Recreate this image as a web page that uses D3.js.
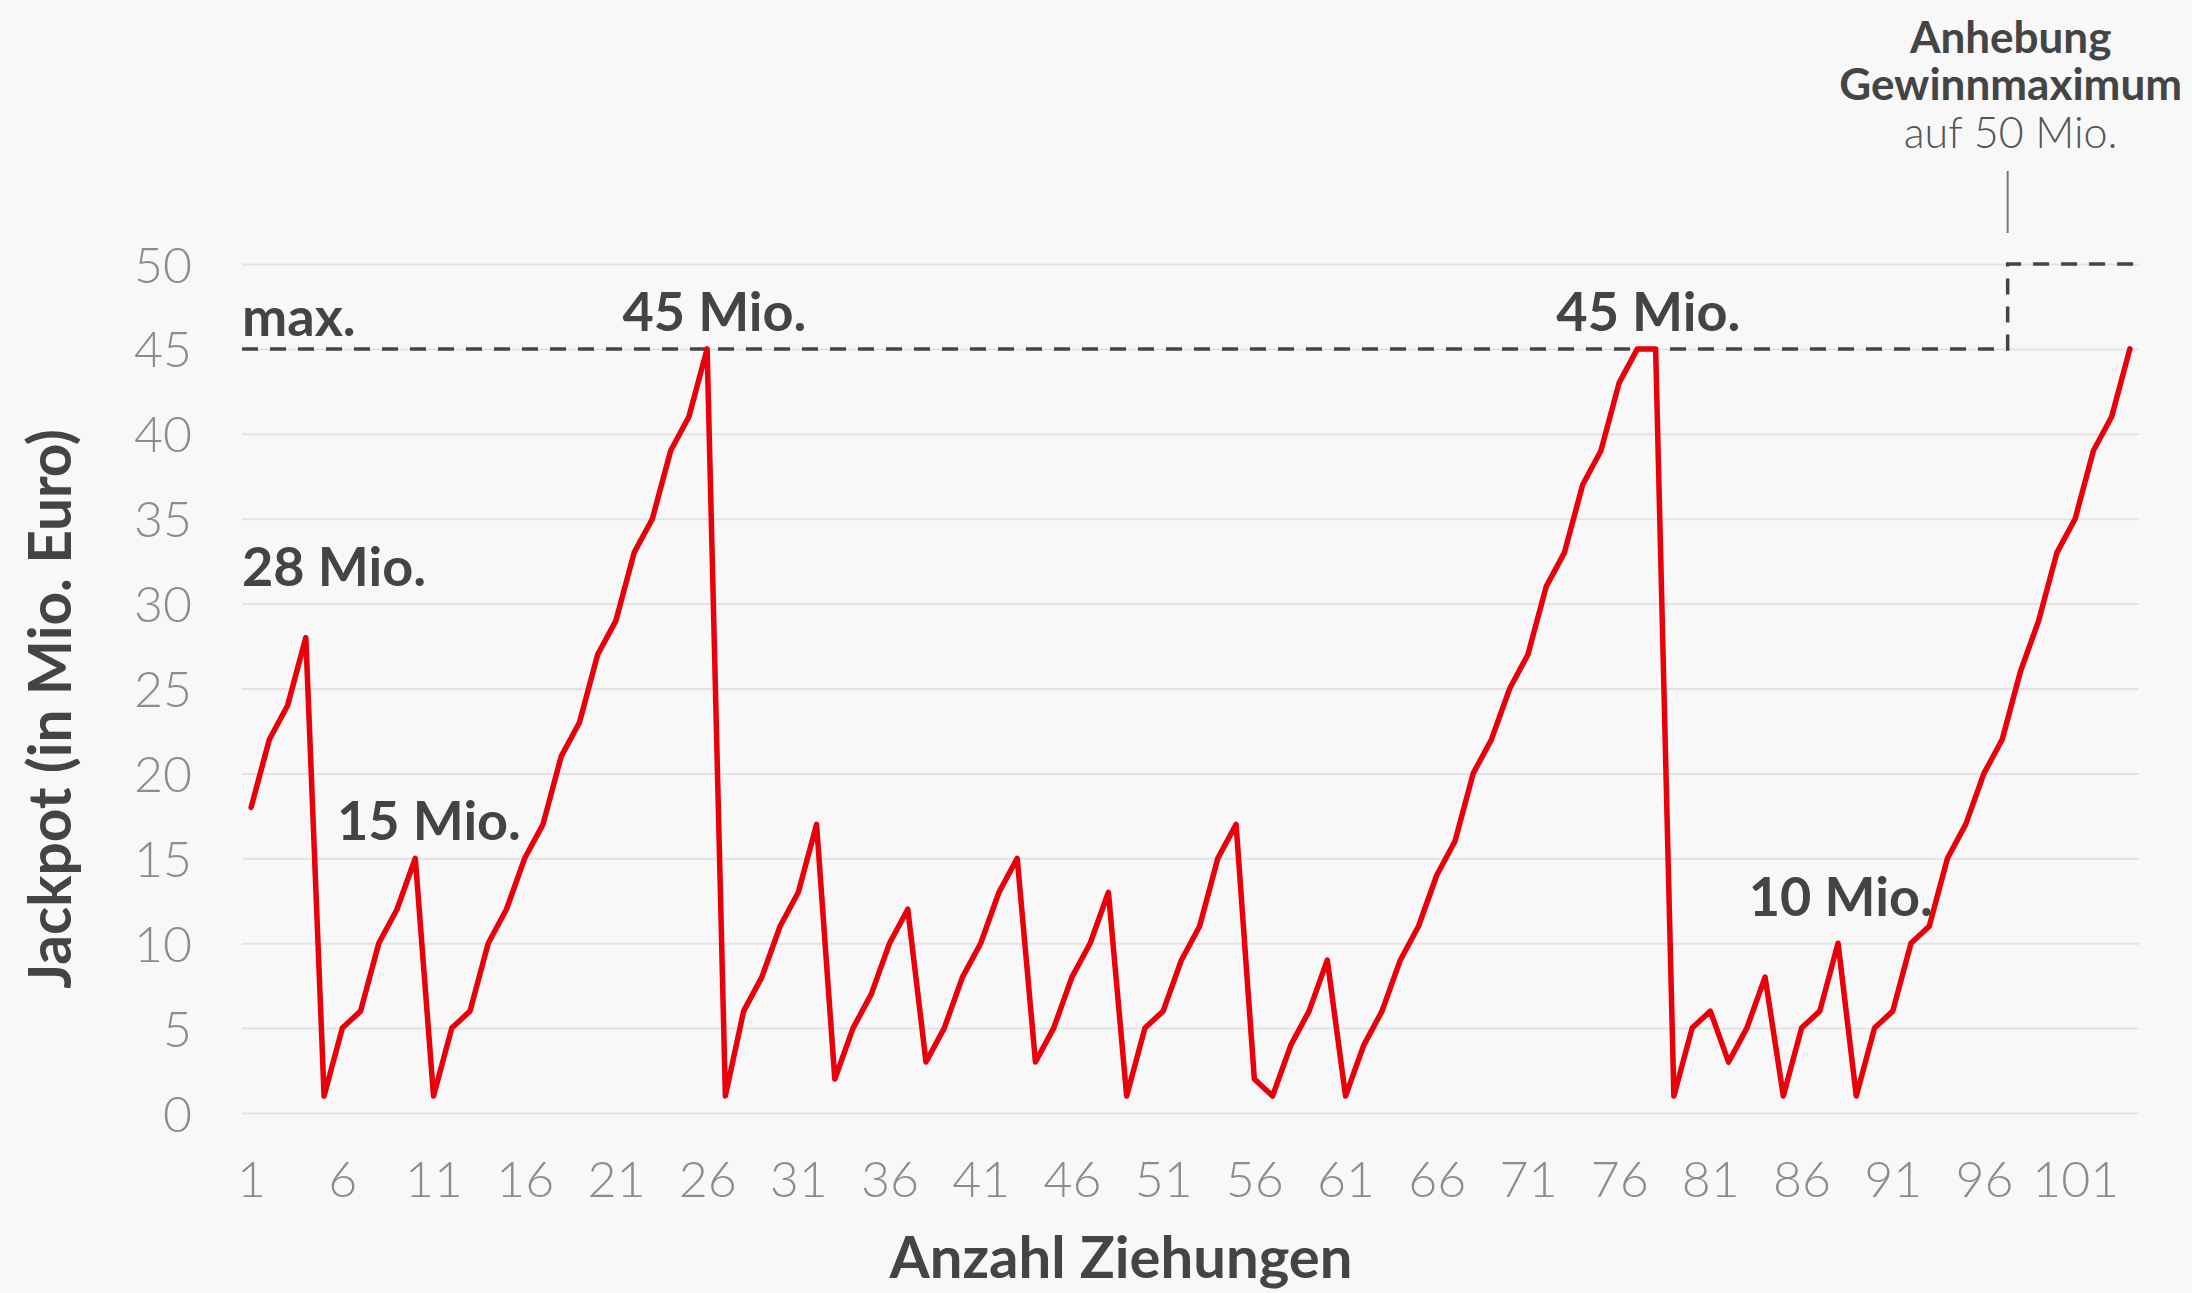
<!DOCTYPE html>
<html><head><meta charset="utf-8">
<script src="https://cdn.jsdelivr.net/npm/d3@7"></script>
<style>
html,body{margin:0;padding:0;background:#f8f8f8;}
svg{display:block;font-family:Lato,"Open Sans",sans-serif;}
</style></head><body>
<svg id="chart" width="2192" height="1293"></svg>
<script>
// Jackpot (Mio. Euro) for each drawing 1..104
const jackpot = [18,22,24,28,1,5,6,10,12,15,1,5,6,10,12,15,17,21,23,27,29,33,35,39,41,45,
  1,6,8,11,13,17,2,5,7,10,12,3,5,8,10,13,15,3,5,8,10,13,1,5,6,9,11,15,17,2,1,4,6,9,
  1,4,6,9,11,14,16,20,22,25,27,31,33,37,39,43,45,45,1,5,6,3,5,8,1,5,6,10,1,5,6,10,11,15,
  17,20,22,26,29,33,35,39,41,45];
const xTickLabels = [1,6,11,16,21,26,31,36,41,46,51,56,61,66,71,76,81,86,91,96,101];
const yTickValues = [0,5,10,15,20,25,30,35,40,45,50];
const oldMax = 45, newMax = 50, raiseAt = 97.3;
const peakLabels = [
  {text:"28 Mio.", draw:0.5, value:31.06, anchor:"start"},
  {text:"15 Mio.", draw:10.75, value:16.06, anchor:"middle"},
  {text:"45 Mio.", draw:26.4, value:46.06, anchor:"middle"},
  {text:"45 Mio.", draw:77.6, value:46.06, anchor:"middle"},
  {text:"10 Mio.", draw:88.15, value:11.6, anchor:"middle"},
  {text:"max.", draw:0.5, value:45.76, anchor:"start"}
];

const svg = d3.select("#chart");
const pLeft = 242, pRight = 2139, pTop = 264, pBottom = 1113;
const n = jackpot.length;
const step = (pRight-pLeft)/n;
const x = d3.scaleLinear().domain([1, n]).range([pLeft+step/2, pRight-step/2]);
const y = d3.scaleLinear().domain([0, 50]).range([pBottom, pTop]);

svg.append("rect").attr("width",2192).attr("height",1293).attr("fill","#f8f8f8");

// grid
const yAxis = d3.axisLeft(y).tickValues(yTickValues).tickSize(-(pRight-pLeft)).tickPadding(50);
const gy = svg.append("g").attr("transform",`translate(${pLeft},0)`).call(yAxis);
gy.select(".domain").remove();
gy.selectAll(".tick line").attr("stroke","#e3e3e3").attr("stroke-width",2);
gy.selectAll(".tick text").attr("fill","#8c8c8c").attr("font-size",50).attr("font-weight",300)
  .attr("font-family","Lato").attr("dy","0.36em");

const xAxis = d3.axisBottom(x).tickValues(xTickLabels).tickSize(0).tickPadding(48).tickFormat(d3.format("d"));
const gx = svg.append("g").attr("transform",`translate(0,${pBottom})`).call(xAxis);
gx.select(".domain").remove();
gx.selectAll(".tick text").attr("fill","#8c8c8c").attr("font-size",50).attr("font-weight",300)
  .attr("font-family","Lato").attr("dy","0.71em");

// max dashed lines
const dash = "16,12";
svg.append("path")
  .attr("d", d3.line()([[pLeft, y(oldMax)],[x(raiseAt), y(oldMax)],[x(raiseAt), y(newMax)],[pRight-3, y(newMax)]]))
  .attr("fill","none").attr("stroke","#444").attr("stroke-width",3.5).attr("stroke-dasharray",dash);

// leader line for annotation
svg.append("line").attr("x1",x(raiseAt)).attr("x2",x(raiseAt))
  .attr("y1",y(newMax)-93).attr("y2",y(newMax)-31).attr("stroke","#777").attr("stroke-width",2);

// jackpot line
const line = d3.line().x((d,i)=>x(i+1)).y(d=>y(d));
svg.append("path").datum(jackpot).attr("d",line).attr("fill","none")
  .attr("stroke","#e8000b").attr("stroke-width",5.5).attr("stroke-linejoin","round").attr("stroke-linecap","round");

// peak labels
svg.selectAll(".pl").data(peakLabels).enter().append("text")
  .attr("x",d=>d.draw===0.5?pLeft:x(d.draw)).attr("y",d=>y(d.value))
  .attr("text-anchor",d=>d.anchor).attr("font-size",54).attr("font-weight",700)
  .attr("fill","#444").text(d=>d.text);

// top-right annotation
const ax = x(raiseAt)+3;
const ann = [{t:"Anhebung",w:700,yy:53,c:"#444",fs:44},{t:"Gewinnmaximum",w:700,yy:100,c:"#444",fs:44},{t:"auf 50 Mio.",w:300,yy:148,c:"#555",fs:43}];
svg.selectAll(".ann").data(ann).enter().append("text")
  .attr("x",ax).attr("y",d=>d.yy).attr("text-anchor","middle").attr("font-size",d=>d.fs)
  .attr("font-weight",d=>d.w).attr("fill",d=>d.c).text(d=>d.t);

// axis titles
svg.append("text").attr("transform","translate(71,709) rotate(-90)").attr("text-anchor","middle")
  .attr("font-size",58.5).attr("font-weight",700).attr("fill","#444").text("Jackpot (in Mio. Euro)");
svg.append("text").attr("x",1121).attr("y",1278).attr("text-anchor","middle")
  .attr("font-size",58).attr("font-weight",700).attr("fill","#444").text("Anzahl Ziehungen");
</script></body></html>
